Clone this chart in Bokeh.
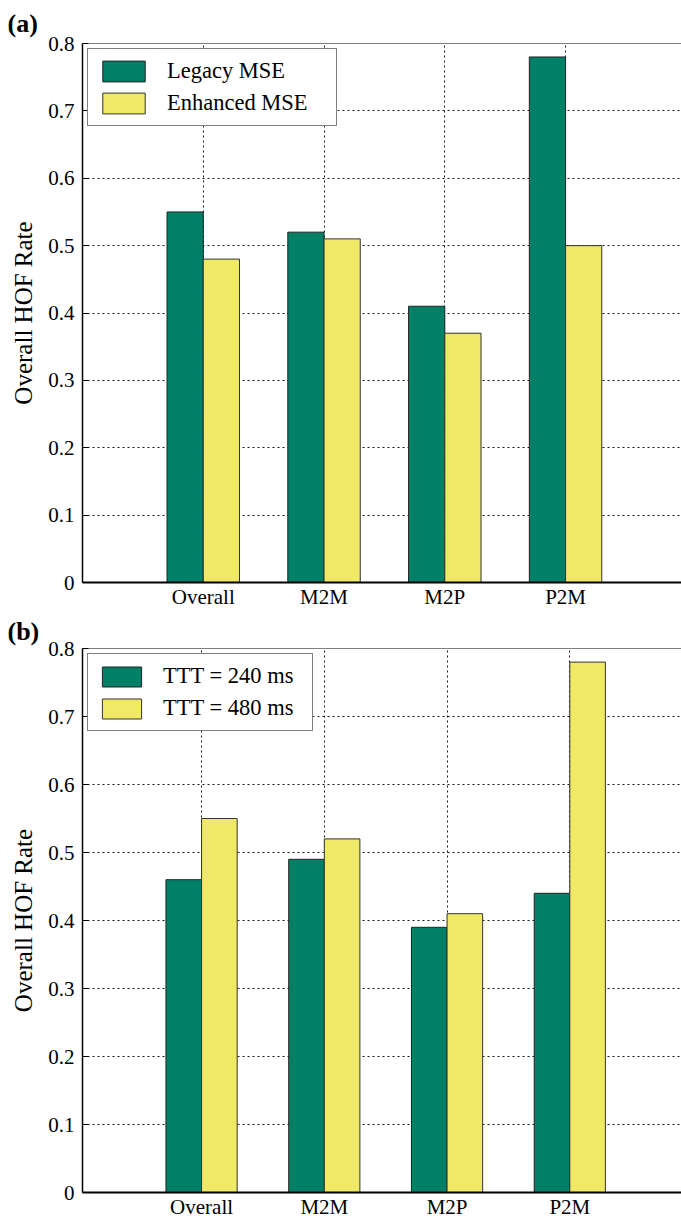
from bokeh.plotting import figure
from bokeh.layouts import column
from bokeh.models import Range1d, FixedTicker, Legend, LegendItem, Span, ColumnDataSource
from bokeh.embed import file_html
from bokeh.resources import INLINE

categories = ["Overall", "M2M", "M2P", "P2M"]
cat_pos = [1, 2, 3, 4]
y_ticks = [0, 0.1, 0.2, 0.3, 0.4, 0.5, 0.6, 0.7, 0.8]

legacy_mse = [0.55, 0.52, 0.41, 0.78]
enhanced_mse = [0.48, 0.51, 0.37, 0.50]
ttt_240 = [0.46, 0.49, 0.39, 0.44]
ttt_480 = [0.55, 0.52, 0.41, 0.78]

GREEN = "#008066"
YELLOW = "#f0e966"
FONT = "Liberation Serif"


def make_panel(tag, s1, s2, names, xmin, xmax, height, bl, bt, bb, label_w, gw, gh, bw,
               tstand, tick_stand, ylab_stand):
    p = figure(width=681, height=height, output_backend="svg", toolbar_location=None,
               x_range=Range1d(xmin, xmax), y_range=Range1d(0, 0.8),
               min_border_left=bl, min_border_right=0, min_border_top=bt,
               min_border_bottom=bb)
    p.outline_line_color = None
    p.title.text = tag
    p.title.text_font = FONT
    p.title.text_font_size = "26px"
    p.title.text_font_style = "bold"
    p.title.text_color = "black"
    p.title.align = "left"
    p.title.offset = -(bl - 7)
    p.title.standoff = tstand

    src = ColumnDataSource(dict(
        xg=[c - bw / 2 for c in cat_pos], xy=[c + bw / 2 for c in cat_pos],
        a=s1, b=s2))
    r1 = p.vbar(x="xg", top="a", width=bw, source=src, fill_color=GREEN,
                line_color="#222222", line_width=1)
    r2 = p.vbar(x="xy", top="b", width=bw, source=src, fill_color=YELLOW,
                line_color="#333333", line_width=1)

    # grids
    p.xgrid.ticker = FixedTicker(ticks=cat_pos)
    p.ygrid.ticker = FixedTicker(ticks=y_ticks[1:-1])
    for g in (p.xgrid, p.ygrid):
        g.grid_line_color = "black"
        g.grid_line_dash = "2 3"
        g.grid_line_width = 1
        g.grid_line_alpha = 0.9

    # top border
    p.add_layout(Span(location=0.8, dimension="width", line_color="black",
                      line_width=1.2))

    # x axis
    xa = p.xaxis[0]
    xa.ticker = FixedTicker(ticks=cat_pos)
    xa.major_label_overrides = {c: n for c, n in zip(cat_pos, categories)}
    xa.major_label_text_font = FONT
    xa.major_label_text_font_size = "21px"
    xa.major_label_text_color = "black"
    xa.major_tick_out = 0
    xa.major_tick_in = 0
    xa.minor_tick_out = 0
    xa.minor_tick_in = 0
    xa.major_label_standoff = 2
    xa.axis_line_color = "black"
    xa.axis_line_width = 2.2

    # y axis
    ya = p.yaxis[0]
    ya.ticker = FixedTicker(ticks=y_ticks)
    ya.major_label_overrides = {0: "0"}
    ya.major_label_text_font = FONT
    ya.major_label_text_font_size = "21px"
    ya.major_label_text_color = "black"
    ya.major_tick_out = 0
    ya.major_tick_in = 6
    ya.major_tick_line_color = "black"
    ya.minor_tick_out = 0
    ya.minor_tick_in = 0
    ya.major_label_standoff = tick_stand
    ya.axis_line_color = "black"
    ya.axis_line_width = 1.5
    ya.axis_label = "Overall HOF Rate"
    ya.axis_label_text_font = FONT
    ya.axis_label_text_font_size = "25px"
    ya.axis_label_text_font_style = "normal"
    ya.axis_label_text_color = "black"
    ya.axis_label_standoff = ylab_stand

    legend = Legend(items=[LegendItem(label=names[0], renderers=[r1]),
                           LegendItem(label=names[1], renderers=[r2])],
                    location="top_left")
    legend.margin = 5
    legend.padding = 9
    legend.spacing = 6
    legend.glyph_width = gw
    legend.glyph_height = gh
    legend.label_height = gh
    legend.label_width = label_w
    legend.label_standoff = 17
    legend.label_text_font = FONT
    legend.label_text_font_size = "22.5px"
    legend.label_text_color = "black"
    legend.border_line_color = "black"
    legend.border_line_width = 1.2
    legend.background_fill_alpha = 1
    p.add_layout(legend)
    return p


pa = make_panel("(a)", legacy_mse, enhanced_mse, ["Legacy MSE", "Enhanced MSE"],
                0, 4.96, 611, 82, 43, 28, 160, 53, 26, 0.3, 11, 8, 8)
pb = make_panel("(b)", ttt_240, ttt_480, ["TTT = 240 ms", "TTT = 480 ms"],
                0.03, 4.91, 613, 82, 37, 32, 140, 49, 25, 0.29, 6, 8, 8)

layout = column(pa, pb, spacing=0)
open("out.html", "w").write(file_html(layout, INLINE))
